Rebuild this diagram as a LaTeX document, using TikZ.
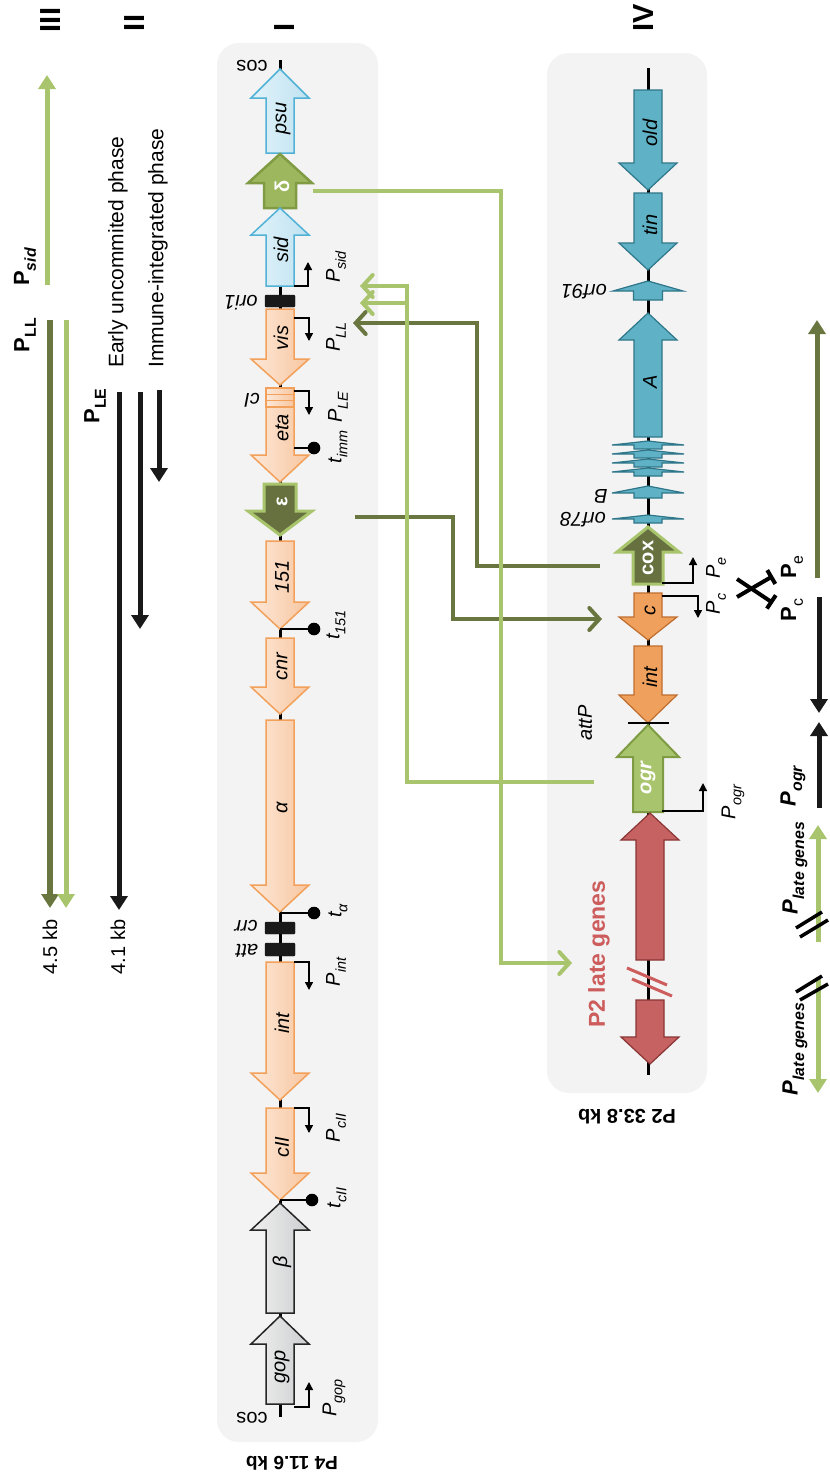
\documentclass[tikz,border=0pt]{standalone}
\usepackage{fontspec}
\setmainfont{Liberation Sans}
\usetikzlibrary{arrows.meta}
\definecolor{lgreen}{HTML}{A8C46C}
\definecolor{olive}{HTML}{69763F}
\definecolor{panelbg}{HTML}{F3F3F3}
\definecolor{orgA}{HTML}{FDE8D8}
\definecolor{orgB}{HTML}{F7C6A0}
\definecolor{orgS}{HTML}{F2A05A}
\definecolor{blueA}{HTML}{E3F3FA}
\definecolor{blueB}{HTML}{BEE2F1}
\definecolor{blueS}{HTML}{52B2D6}
\definecolor{grayA}{HTML}{F0F0F0}
\definecolor{grayB}{HTML}{CDCED0}
\definecolor{tealF}{HTML}{5FB2C5}
\definecolor{tealS}{HTML}{2E7689}
\definecolor{cF}{HTML}{EEA05C}
\definecolor{cS}{HTML}{C06E30}
\definecolor{redF}{HTML}{C66262}
\definecolor{redS}{HTML}{8A3535}
\definecolor{redT}{HTML}{CD5C5C}
\definecolor{dgF}{HTML}{9DB75E}
\definecolor{dgS}{HTML}{7F9C44}
\definecolor{darkF}{HTML}{67713F}
\newcommand{\genearrow}[7]{\path[#1] (#2-#6,#3) -- (#2+#6,#3) -- (#2+#6,#4) -- (#2+#7,#4) -- (#2,#5) -- (#2-#7,#4) -- (#2-#6,#4) -- cycle;}
\newcommand{\lsub}[1]{\raisebox{-0.3em}{\scalebox{0.72}{#1}}}
\tikzset{
  orangeL/.style={draw=orgS, line width=1.5pt, left color=orgA, right color=orgB},
  bluegene/.style={draw=blueS, line width=1.5pt, left color=blueA, right color=blueB},
  grayg/.style={draw=black!85, line width=1.5pt, left color=grayA, right color=grayB},
  deltag/.style={fill=dgF, draw=dgS, line width=2.5pt},
  epsg/.style={fill=darkF, draw=lgreen, line width=3pt},
  ogrg/.style={fill=lgreen, draw=dgS, line width=2pt},
  tealg/.style={fill=tealF, draw=tealS, line width=1.2pt},
  cgene/.style={fill=cF, draw=cS, line width=1.2pt},
  redg/.style={fill=redF, draw=redS, line width=1.2pt},
  blk/.style={fill=black!90, draw=black!90, rounded corners=1pt},
  gl/.style={rotate=90, inner sep=0, font=\fontsize{20}{20}\selectfont\itshape},
  glw/.style={rotate=90, inner sep=0, text=white, font=\fontsize{20}{20}\selectfont\bfseries},
  pl/.style={rotate=90, inner sep=0, font=\fontsize{20}{20}\selectfont\itshape},
  ud/.style={rotate=180, inner sep=0, font=\fontsize{20}{20}\selectfont\itshape},
  bl/.style={rotate=90, inner sep=0, font=\fontsize{22}{22}\selectfont\bfseries},
  rl/.style={rotate=90, inner sep=0, font=\fontsize{21}{21}\selectfont},
  rn/.style={rotate=90, inner sep=0, font=\fontsize{29}{29}\selectfont\bfseries},
  prom/.style={line width=1.4pt, -{Triangle[length=8pt,width=8pt]}},
  termline/.style={line width=1.4pt},
  lgc/.style={draw=lgreen, line width=4pt, -{Straight Barb[length=10pt,width=22pt,line cap=round]}},
  olc/.style={draw=olive, line width=4pt, -{Straight Barb[length=10pt,width=22pt,line cap=round]}},
  trk/.style={line width=5pt, -{Triangle[length=14pt,width=17pt]}},
  slash/.style={line width=3.5pt},
  panel/.style={fill=panelbg, rounded corners=22pt}
}
\begin{document}
\begin{tikzpicture}[x=1pt,y=-1pt]
\useasboundingbox (0,0) rectangle (830,1484);
% panels
\path[panel] (217,43) rectangle (378,1442);
\path[panel] (547,53) rectangle (707,1093);
% roman numerals
\node[rn] (r3) at (51,20) {III};
\node[rn] (r2) at (135,23) {II};
\node[rn] (r1) at (285,27) {I};
\node[rn] (r4) at (644,18) {IV};
% left tracks
\draw[trk, lgreen] (47,285) -- (47,75);
\draw[trk, olive, line width=6pt] (50,320) -- (50,908);
\draw[trk, lgreen] (66,320) -- (66,908);
\draw[trk, black!90] (119,392) -- (119,910);
\draw[trk, black!90] (140,392) -- (140,629);
\draw[trk, black!90] (159,390) -- (159,482);
\node[bl] (PsidL) at (25,267) {P\lsub{\itshape sid}};
\node[bl] (PLLL) at (25,335) {P\lsub{LL}};
\node[bl] (PLEL) at (95,406) {P\lsub{LE}};
\node[rl, anchor=west] (early) at (118,368) {Early uncommited phase};
\node[rl, anchor=west] (immune) at (158,368) {Immune-integrated phase};
\node[rl, font=\fontsize{20}{20}\selectfont] (kb45) at (50,947) {4.5 kb};
\node[rl, font=\fontsize{20}{20}\selectfont] (kb41) at (118,947) {4.1 kb};
% ---------- Panel I (P4) ----------
\draw[line width=3pt] (280,60) -- (280,1417);
\genearrow{bluegene}{280}{153}{98}{69}{14}{29}
\genearrow{deltag}{280}{208}{183}{154}{16}{32}
\genearrow{bluegene}{280}{286}{235}{208}{14}{29}
\path[blk] (265,295) rectangle (295,307);
\genearrow{orangeL}{280}{309}{359}{385}{14}{29}
\path[orangeL] (266,388) rectangle (294,407);
\draw[orgS, line width=1pt] (266,394) -- (294,394) (266,400) -- (294,400);
\genearrow{orangeL}{280}{407}{455}{482}{14}{29}
\genearrow{epsg}{280}{484}{511}{535}{16}{32}
\genearrow{orangeL}{280}{541}{602}{629}{14}{29}
\genearrow{orangeL}{280}{638}{687}{714}{14}{29}
\genearrow{orangeL}{280}{720}{885}{912}{14}{29}
\path[blk] (265,922) rectangle (295,934);
\path[blk] (265,943) rectangle (295,956);
\genearrow{orangeL}{280}{962}{1073}{1100}{14}{29}
\genearrow{orangeL}{280}{1108}{1173}{1200}{14}{29}
\genearrow{grayg}{280}{1313}{1230}{1203}{14}{29}
\genearrow{grayg}{280}{1404}{1344}{1316}{14}{29}
% gene labels I
\node[gl] (psu) at (283,118) {psu};
\node[glw] (delta) at (282,186) {δ};
\node[gl] (sid) at (281,250) {sid};
\node[gl] (vis) at (281,338) {vis};
\node[gl] (eta) at (282,428) {eta};
\node[glw] (eps) at (282,502) {ε};
\node[gl] (g151) at (282,577) {151};
\node[gl] (cnr) at (282,667) {cnr};
\node[gl] (alpha) at (282,808) {α};
\node[gl] (int4) at (282,1023) {int};
\node[gl] (cII) at (282,1147) {cII};
\node[gl] (beta) at (282,1262) {β};
\node[gl] (gop) at (282,1367) {gop};
% upside-down labels I
\node[ud, font=\fontsize{20}{20}\selectfont] (cos1) at (252,66) {cos};
\node[ud] (ori1) at (241,303) {ori1};
\node[ud] (cI) at (252,400) {cI};
\node[ud] (crr) at (246,926) {crr};
\node[ud] (att) at (247,951) {att};
\node[ud, font=\fontsize{20}{20}\selectfont] (cos2) at (252,1418) {cos};
% promoters and terminators I
\draw[prom] (294,286) -- (308,286) -- (308,262);
\draw[prom] (294,318) -- (309,318) -- (309,341);
\draw[prom] (294,391) -- (309,391) -- (309,415);
\draw[prom] (294,962) -- (309,962) -- (309,990);
\draw[prom] (294,1108) -- (309,1108) -- (309,1133);
\draw[prom] (294,1407) -- (309,1407) -- (309,1382);
\draw[termline] (294,448) -- (314,448); \fill (314,448) circle (6.3);
\draw[termline] (280,629) -- (314,629); \fill (314,629) circle (6.3);
\draw[termline] (280,913) -- (314,913); \fill (314,913) circle (6.3);
\draw[termline] (280,1200) -- (312,1200); \fill (312,1200) circle (6.3);
\node[pl] (Psid) at (336,267) {P\lsub{sid}};
\node[pl] (PLL) at (336,337) {P\lsub{LL}};
\node[pl] (PLE) at (338,407) {P\lsub{LE}};
\node[pl] (timm) at (338,447) {t\lsub{imm}};
\node[pl] (t151) at (336,625) {t\lsub{151}};
\node[pl] (talpha) at (338,911) {t\lsub{α}};
\node[pl] (Pint) at (336,972) {P\lsub{int}};
\node[pl] (PcII) at (336,1128) {P\lsub{cII}};
\node[pl] (tcII) at (337,1198) {t\lsub{cII}};
\node[pl] (Pgop) at (334,1398) {P\lsub{gop}};
\node[rotate=180, inner sep=0, font=\fontsize{19}{19}\selectfont\bfseries] (P4) at (292,1463) {P4 11.6 kb};
% ---------- Panel IV (P2) ----------
\draw[line width=3pt] (648,68) -- (648,1075);
\genearrow{tealg}{648}{90}{163}{190}{14}{29}
\genearrow{tealg}{648}{193}{243}{270}{14}{29}
\genearrow{tealg}{648}{300}{291}{281}{14.5}{35}
\genearrow{tealg}{648}{437}{340}{313}{14}{29}
\genearrow{tealg}{648}{449}{445}{441}{14}{36}
\genearrow{tealg}{648}{458}{454}{450}{14}{36}
\genearrow{tealg}{648}{467}{463}{459}{14}{36}
\genearrow{tealg}{648}{476}{472}{468}{14}{36}
\genearrow{tealg}{648}{498}{493}{486}{14}{36}
\genearrow{tealg}{648}{523}{519}{515}{14}{36}
\genearrow{epsg}{648}{584}{552}{527}{15}{31}
\genearrow{cgene}{648}{593}{617}{640}{14}{29}
\genearrow{cgene}{648}{646}{695}{723}{14}{29}
\draw[line width=1.4pt] (628,723) -- (669,723);
\genearrow{ogrg}{648}{812}{757}{725}{15}{31}
\genearrow{redg}{650}{960}{840}{813}{14}{29}
\genearrow{redg}{650}{1000}{1037}{1064}{14}{29}
\draw[redT, line width=3pt] (627,968) -- (667,985);
\draw[redT, line width=3pt] (632,979) -- (672,996);
% labels IV
\node[gl] (old) at (650,133) {old};
\node[gl] (tin) at (650,225) {tin};
\node[gl] (A) at (650,382) {A};
\node[glw] (cox) at (648,558) {cox};
\node[gl] (c) at (650,610) {c};
\node[gl] (int2) at (650,677) {int};
\node[glw, font=\fontsize{20}{20}\selectfont\bfseries\itshape] (ogr) at (648,778) {ogr};
\node[ud] (orf91) at (584,292) {orf91};
\node[ud] (B) at (601,496) {B};
\node[ud] (orf78) at (583,520) {orf78};
\node[gl] (attP) at (585,723) {attP};
\node[rotate=90, inner sep=0, text=redT, font=\fontsize{23}{23}\selectfont\bfseries] (late) at (599,954) {P2 late genes};
\node[rotate=180, inner sep=0, font=\fontsize{20}{20}\selectfont\bfseries] (P2) at (627,1117) {P2 33.8 kb};
\draw[prom] (662,583) -- (693,583) -- (693,557);
\draw[prom] (662,596) -- (698,596) -- (698,618);
\draw[prom] (662,811) -- (703,811) -- (703,783);
\node[pl] (Pe) at (716,568) {P\lsub{e}};
\node[pl] (Pc) at (716,604) {P\lsub{c}};
\node[pl] (Pogr) at (733,802) {P\lsub{ogr}};
% ---------- right tracks ----------
\draw[trk, olive] (817,578) -- (817,320);
\draw[trk, black!90] (819,597) -- (819,713);
\draw[trk, black!90] (819,808) -- (819,722);
\draw[trk, lgreen] (818,942) -- (818,825);
\draw[trk, lgreen] (818,977) -- (818,1093);
\draw[slash] (796,928) -- (822,912);
\draw[slash] (800,937) -- (828,920);
\draw[slash] (796,992) -- (822,976);
\draw[slash] (800,1000) -- (828,984);
\draw[line width=4pt, -{Bar[width=16pt]}] (737,597) -- (773,576);
\draw[line width=4pt, -{Bar[width=16pt]}] (737,579) -- (773,603);
\node[bl] (PeR) at (792,567) {P\lsub{\mdseries e}};
\node[bl] (PcR) at (792,610) {P\lsub{\mdseries c}};
\node[bl, font=\fontsize{22}{22}\selectfont\bfseries\itshape] (PogrR) at (793,786) {P\lsub{ogr}};
\node[bl, font=\fontsize{22}{22}\selectfont\bfseries\itshape] (Plate1) at (795,868) {P\lsub{late genes}};
\node[bl, font=\fontsize{22}{22}\selectfont\bfseries\itshape] (Plate2) at (795,1049) {P\lsub{late genes}};
% ---------- regulatory connectors ----------
\coordinate (dOut) at (313,191);
\coordinate (lateIn) at (572,963);
\coordinate (ogrOut) at (594,782);
\coordinate (sidIn) at (360,286);
\coordinate (llIn) at (360,303);
\coordinate (coxOut) at (600,566);
\coordinate (llIn2) at (353,323);
\coordinate (epsOut) at (355,517);
\coordinate (cIn) at (602,619);
\draw[olc] (coxOut) -- (477,566) -- (477,323) -- (llIn2);
\draw[olc] (epsOut) -- (453,517) -- (453,619) -- (cIn);
\draw[lgc] (dOut) -- (501,191) -- (501,963) -- (lateIn);
\draw[lgc] (ogrOut) -- (407,782) -- (407,286) -- (sidIn);
\draw[lgc] (407,303) -- (llIn);
\end{tikzpicture}
\end{document}
